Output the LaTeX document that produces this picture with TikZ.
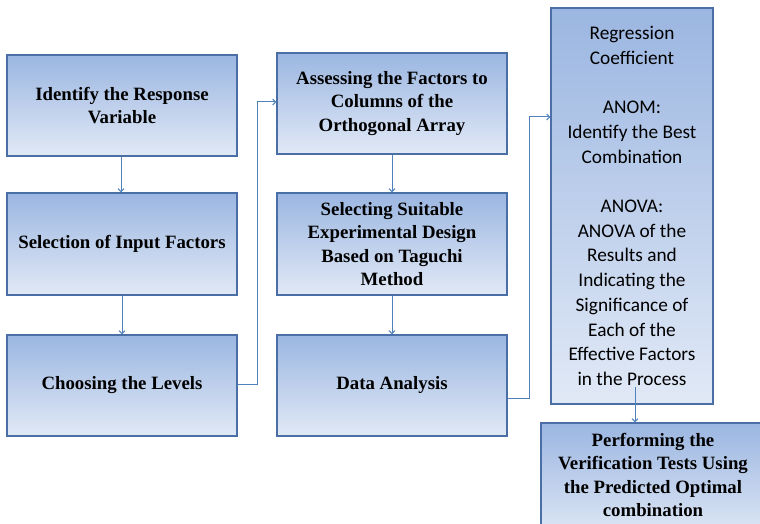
\documentclass[tikz,border=0pt]{standalone}
\usepackage{fontspec}
\setmainfont{Liberation Serif}
\newfontfamily\calfont{Carlito}
\usetikzlibrary{arrows.meta}
\definecolor{boxline}{HTML}{4A6EA6}
\definecolor{conline}{HTML}{4F81BD}
\definecolor{boxtop}{HTML}{9BB6E1}
\definecolor{boxbot}{HTML}{E1E9F6}
\tikzset{
  box/.style={draw=boxline, line width=1.2pt, top color=boxtop, bottom color=boxbot,
    minimum width=230pt, minimum height=101pt, inner sep=0pt, align=center,
    font=\fontsize{18.8}{23.5}\selectfont\bfseries},
  label/.style={align=center, inner sep=0pt, font=\fontsize{18.8}{23.5}\selectfont\bfseries},
  conn/.style={draw=conline, line width=1pt, -{Straight Barb[length=3pt,width=6pt]}}
}
\begin{document}
\begin{tikzpicture}[x=1pt,y=-1pt]
\useasboundingbox (0,0) rectangle (760,524);
\node[box] (b1) at (122,105.5) {Identify the Response\\Variable};
\node[box, minimum height=102pt] (b2) at (122,244) {Selection of Input Factors};
\node[box] (b3) at (122,385.5) {Choosing the Levels};
\node[box] (b4) at (392,103.5) {Assessing the Factors to\\Columns of the\\Orthogonal Array};
\node[box, minimum height=102pt] (b5) at (392,244) {Selecting Suitable\\Experimental Design\\Based on Taguchi\\Method};
\node[box] (b6) at (392,385.5) {Data Analysis};
\node[box, minimum width=162pt, minimum height=396pt,
  font=\calfont\fontsize{19.3}{24.7}\selectfont] (b7) at (632,206)
  {Regression\\Coefficient\\[24.7pt]ANOM:\\Identify the Best\\Combination\\[24.7pt]ANOVA:\\ANOVA of the\\Results and\\Indicating the\\Significance of\\Each of the\\Effective Factors\\in the Process};
\node[box, minimum width=224pt, minimum height=117pt] (b8) at (653,481.5) {};
\node[label] (t8) at (653,475) {Performing the\\Verification Tests Using\\the Predicted Optimal\\combination};
\coordinate (c1) at (257,102);
\coordinate (c2) at (529,117);
\coordinate (c3) at (635,387);
\draw[conn] (b1.south -| 121,0) -- (b2.north -| 121,0);
\draw[conn] (b4.south) -- (b5.north);
\draw[conn] (b2.south) -- (b3.north);
\draw[conn] (b5.south) -- (b6.north);
\draw[conn] ([yshift=1.5pt]b3.east) -| (c1) -- (c1 -| b4.west);
\draw[conn] ([yshift=-12.5pt]b6.east) -| (c2) -- (c2 -| b7.west);
\draw[conn] (c3) -- (c3 |- b8.north);
\end{tikzpicture}
\end{document}
